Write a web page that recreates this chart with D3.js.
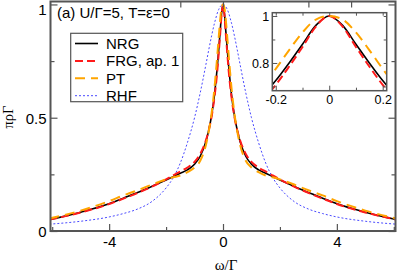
<!DOCTYPE html>
<html><head><meta charset="utf-8">
<script src="https://cdn.jsdelivr.net/npm/d3@7"></script>
<style>html,body{margin:0;padding:0;background:#fff;}svg{display:block;}</style>
</head><body>
<svg id="c" width="399" height="276"></svg>
<script>
const omega = [-6.1,-5,-4,-3.5,-3,-2.5,-2,-1.75,-1.5,-1.25,-1,-0.8,-0.6,-0.5,-0.4,-0.3,-0.25,-0.2,-0.15,-0.1,-0.05,0,0.05,0.1,0.15,0.2,0.25,0.3,0.4,0.5,0.6,0.8,1,1.25,1.5,1.75,2,2.5,3,3.5,4,5,6.1];
const nrg = [0.05,0.083,0.12,0.145,0.17,0.197,0.225,0.24,0.255,0.27,0.295,0.33,0.395,0.445,0.51,0.60,0.66,0.725,0.80,0.88,0.96,1.0,0.96,0.88,0.80,0.725,0.66,0.60,0.51,0.445,0.395,0.33,0.295,0.27,0.255,0.24,0.225,0.197,0.17,0.145,0.12,0.083,0.05];
const frg = [0.05,0.082,0.119,0.143,0.168,0.196,0.228,0.245,0.263,0.28,0.305,0.34,0.40,0.445,0.505,0.59,0.643,0.707,0.785,0.868,0.955,1.0,0.955,0.868,0.785,0.707,0.643,0.59,0.505,0.445,0.40,0.34,0.305,0.28,0.263,0.245,0.228,0.196,0.168,0.143,0.119,0.082,0.05];
const pt = [0.055,0.09,0.132,0.157,0.18,0.205,0.228,0.237,0.245,0.26,0.28,0.31,0.38,0.44,0.52,0.63,0.70,0.775,0.855,0.93,0.985,1.0,0.985,0.93,0.855,0.775,0.70,0.63,0.52,0.44,0.38,0.31,0.28,0.26,0.245,0.237,0.228,0.205,0.18,0.157,0.132,0.09,0.055];
const rhf = [0.03,0.043,0.062,0.077,0.097,0.13,0.19,0.235,0.30,0.39,0.5,0.61,0.735,0.8,0.862,0.917,0.94,0.962,0.978,0.99,0.997,1.0,0.997,0.99,0.978,0.962,0.94,0.917,0.862,0.8,0.735,0.61,0.5,0.39,0.30,0.235,0.19,0.13,0.097,0.077,0.062,0.043,0.03];
const seriesNames = ["NRG","FRG, ap. 1","PT","RHF"];
const xTicksMajor = [-4,0,4], xTicksMinor = [-6,-2,2,6];
const xTickLabels = ["-4","0","4"];
const yTicksMajor = [0,0.5,1], yTicksMinor = [0.25,0.75];
const yTickLabels = ["0","0.5","1"];
const topTicks = [-1.5,0,3,4.5];
const insetXMajor = [-0.2,0,0.2], insetXMinor = [-0.1,0.1];
const insetXLabels = ["-0.2","0","0.2"];
const insetYMajor = [0.8,1], insetYMinor = [0.7,0.9];
const insetYLabels = ["0.8","1"];

const svg = d3.select("#c");
const x = d3.scaleLinear().domain([-6.06,6.06]).range([50.5,395.5]);
const y = d3.scaleLinear().domain([0,1.013]).range([231,1.5]);
const ix = d3.scaleLinear().domain([-0.213,0.215]).range([272.3,386.7]);
const iy = d3.scaleLinear().domain([0.682,1.014]).range([90.7,12.7]);

const styles = [
  {data:rhf, color:"#4a4aff", w:1, dash:"2,2"},
  {data:nrg, color:"#000", w:1.6, dash:null},
  {data:frg, color:"#ff1a1a", w:2, dash:"8,4"},
  {data:pt,  color:"#ffa500", w:2, dash:"10,6"}
];
const defs = svg.append("defs");
defs.append("clipPath").attr("id","cm").append("rect").attr("x",50.5).attr("y",1.5).attr("width",345).attr("height",229.5);
defs.append("clipPath").attr("id","ci").append("rect").attr("x",272.3).attr("y",12.7).attr("width",114.4).attr("height",78);

const gm = svg.append("g").attr("clip-path","url(#cm)");
styles.forEach(s=>{
  const line = d3.line().x((d,i)=>x(omega[i])).y(d=>y(d)).curve(d3.curveMonotoneX);
  gm.append("path").attr("d",line(s.data)).attr("fill","none").attr("stroke",s.color)
    .attr("stroke-width",s.w).attr("stroke-dasharray",s.dash);
});

const frameC = "#555";
const lab = (vals, labels) => d => labels[vals.indexOf(d)];
const axB = svg.append("g").attr("transform","translate(0,231)").call(d3.axisBottom(x).tickValues(xTicksMajor).tickSize(-7).tickFormat(lab(xTicksMajor,xTickLabels)));
const axBm = svg.append("g").attr("transform","translate(0,231)").call(d3.axisBottom(x).tickValues(xTicksMinor).tickSize(-4).tickFormat(""));
const axT = svg.append("g").attr("transform","translate(0,1.5)").call(d3.axisTop(x).tickValues(topTicks).tickSize(-6).tickFormat(""));
const axL = svg.append("g").attr("transform","translate(50.5,0)").call(d3.axisLeft(y).tickValues(yTicksMajor).tickSize(-7).tickFormat(lab(yTicksMajor,yTickLabels)));
const axLm = svg.append("g").attr("transform","translate(50.5,0)").call(d3.axisLeft(y).tickValues(yTicksMinor).tickSize(-4).tickFormat(""));
const axR = svg.append("g").attr("transform","translate(395.5,0)").call(d3.axisRight(y).tickValues(yTicksMajor).tickSize(-7).tickFormat(""));
const axRm = svg.append("g").attr("transform","translate(395.5,0)").call(d3.axisRight(y).tickValues(yTicksMinor).tickSize(-4).tickFormat(""));
[axB,axBm,axT,axL,axLm,axR,axRm].forEach(a=>{
  a.select(".domain").remove();
  a.selectAll(".tick line").attr("stroke",frameC).attr("stroke-width",1.2);
  a.selectAll("text").attr("font-family","Liberation Sans, Arial, sans-serif").attr("font-size",15).attr("fill","#000");
});
axB.selectAll("text").attr("dy",null).attr("y",16);
axL.selectAll("text").attr("x",-4).attr("dy","0.36em");
axL.selectAll(".tick").filter(d=>d===1).select("text").attr("dy","0.7em");
svg.append("rect").attr("x",50.5).attr("y",1.5).attr("width",345).attr("height",229.5)
  .attr("fill","none").attr("stroke",frameC).attr("stroke-width",2);

svg.append("text").attr("transform","translate(13,117) rotate(-90)").attr("text-anchor","middle")
  .attr("font-family","Liberation Serif, Times New Roman, serif").attr("font-size",14.5).text("πρΓ");
svg.append("text").attr("x",226).attr("y",270).attr("text-anchor","middle")
  .attr("font-family","Liberation Serif, Times New Roman, serif").attr("font-size",15).text("ω/Γ");

svg.append("text").attr("x",57).attr("y",18).attr("font-family","Liberation Sans, Arial, sans-serif")
  .attr("font-size",15).text("(a) U/Γ=5, T=ε=0");

const lg = svg.append("g");
lg.append("rect").attr("x",70.7).attr("y",33.3).attr("width",112).attr("height",68.4).attr("fill","#fff").attr("stroke",frameC).attr("stroke-width",1.2);
const legOrder = [1,2,3,0];
legOrder.forEach((si,k)=>{
  const yy = 43.5 + k*17.4;
  const s = styles[si];
  lg.append("line").attr("x1",75).attr("x2",98).attr("y1",yy).attr("y2",yy).attr("stroke",s.color)
    .attr("stroke-width",s.w).attr("stroke-dasharray",s.dash);
  lg.append("text").attr("x",106).attr("y",yy).attr("dy","0.36em").attr("font-family","Liberation Sans, Arial, sans-serif")
    .attr("font-size",15).text(seriesNames[k]);
});

svg.append("rect").attr("x",272.3).attr("y",12.7).attr("width",114.4).attr("height",78).attr("fill","#fff");
const gi = svg.append("g").attr("clip-path","url(#ci)");
styles.slice(1).forEach(s=>{
  const line = d3.line().x((d,i)=>ix(omega[i])).y(d=>iy(d)).curve(d3.curveMonotoneX);
  gi.append("path").attr("d",line(s.data)).attr("fill","none").attr("stroke",s.color)
    .attr("stroke-width",s.w).attr("stroke-dasharray",s.dash);
});
const iB = svg.append("g").attr("transform","translate(0,90.7)").call(d3.axisBottom(ix).tickValues(insetXMajor).tickSize(-5).tickFormat(lab(insetXMajor,insetXLabels)));
const iBm = svg.append("g").attr("transform","translate(0,90.7)").call(d3.axisBottom(ix).tickValues(insetXMinor).tickSize(-3).tickFormat(""));
const iT = svg.append("g").attr("transform","translate(0,12.7)").call(d3.axisTop(ix).tickValues(insetXMajor.concat(insetXMinor)).tickSize(-3).tickFormat(""));
const iL = svg.append("g").attr("transform","translate(272.3,0)").call(d3.axisLeft(iy).tickValues(insetYMajor).tickSize(-5).tickFormat(lab(insetYMajor,insetYLabels)));
const iLm = svg.append("g").attr("transform","translate(272.3,0)").call(d3.axisLeft(iy).tickValues(insetYMinor).tickSize(-3).tickFormat(""));
const iR = svg.append("g").attr("transform","translate(386.7,0)").call(d3.axisRight(iy).tickValues(insetYMajor.concat(insetYMinor)).tickSize(-3).tickFormat(""));
[iB,iBm,iT,iL,iLm,iR].forEach(a=>{
  a.select(".domain").remove();
  a.selectAll(".tick line").attr("stroke",frameC).attr("stroke-width",1);
  a.selectAll("text").attr("font-family","Liberation Sans, Arial, sans-serif").attr("font-size",12.5).attr("fill","#000");
});
iB.selectAll("text").attr("dy",null).attr("y",13);
iL.selectAll("text").attr("x",-3).attr("dy","0.36em");
svg.append("rect").attr("x",272.3).attr("y",12.7).attr("width",114.4).attr("height",78)
  .attr("fill","none").attr("stroke",frameC).attr("stroke-width",1.5);
</script>
</body></html>
